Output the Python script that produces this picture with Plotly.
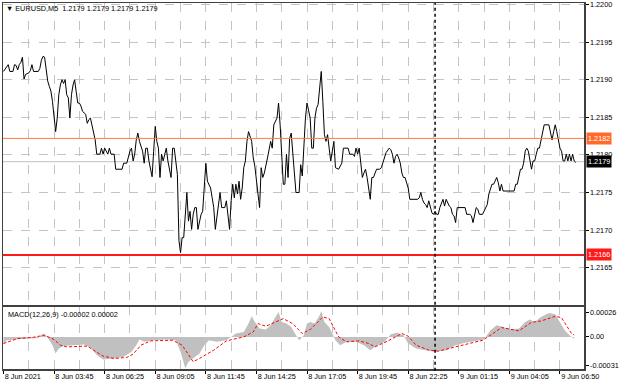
import math
import plotly.graph_objects as go

# ---------------- data ----------------
price_bar = [0, 3, 4, 6, 7, 8, 9, 10, 11, 12, 13, 14, 16, 17, 18, 19, 22, 23, 24, 25, 26, 27, 28, 29, 30,
             31, 32, 33, 34, 35, 36, 37, 38, 39, 40, 41, 42, 43, 44, 45, 46, 47, 48, 49, 50, 52, 53, 54, 55,
             56, 57, 58, 59, 61, 62, 63, 64, 66, 67, 68, 70, 71, 75, 76, 78, 79, 80, 81, 82, 83, 84, 85, 86,
             88, 89, 90, 91, 92, 94, 95, 96, 97, 98, 99, 100, 101, 102, 103, 104, 105, 106, 107, 108, 110,
             111, 112, 113, 114, 115, 116, 117, 118, 119, 120, 121, 122, 123, 124, 125, 126, 127, 128, 129,
             131, 132, 133, 134, 135, 136, 137, 138, 140, 141, 142, 143, 144, 145, 146, 147, 148, 149, 150,
             151, 152, 153, 154, 155, 157, 158, 159, 160, 161, 162, 163, 164, 165, 167, 169, 170, 171, 173,
             174, 175, 176, 177, 178, 179, 180, 181, 182, 183, 184, 185, 187, 188, 189, 190, 191, 192, 193,
             194, 195, 196, 197, 198, 199, 200, 201, 202, 203, 204, 205, 206, 207, 208, 209, 210, 212, 214,
             215, 218, 219, 221, 222, 223, 224, 225, 226, 227, 228, 229, 230, 231, 232, 233, 234, 236, 238,
             239, 241, 242, 244, 245, 246, 247, 248, 249, 250, 251, 252, 253, 254, 255, 256, 257, 258, 262,
             263, 264, 265, 266, 267, 268, 269, 270, 271, 272, 273, 274, 275, 276, 278, 279, 280, 282, 283,
             284, 285, 286, 287, 292, 293, 295, 296, 297, 298, 299, 300, 301, 303, 305, 306, 307, 308, 309,
             310, 311, 312, 313, 314, 315, 316, 323, 324, 325, 326, 327, 328, 329, 330, 331, 332, 333, 334,
             335, 336, 337, 338, 339, 340, 341, 342, 345, 346, 347, 348, 349, 350, 351, 352, 353, 354, 355,
             356, 357, 358, 359, 360, 361, 362]
price_close = [1.21911, 1.21920, 1.21911, 1.21911, 1.21920, 1.21919, 1.21913, 1.21920, 1.21923, 1.21930,
               1.21901, 1.21907, 1.21909, 1.21912, 1.21920, 1.21911, 1.21911, 1.21915, 1.21926, 1.21931,
               1.21930, 1.21911, 1.21898, 1.21891, 1.21885, 1.21871, 1.21854, 1.21831, 1.21849, 1.21880,
               1.21893, 1.21900, 1.21895, 1.21900, 1.21880, 1.21876, 1.21849, 1.21880, 1.21893, 1.21900,
               1.21884, 1.21869, 1.21869, 1.21865, 1.21858, 1.21854, 1.21842, 1.21847, 1.21849, 1.21838,
               1.21831, 1.21820, 1.21801, 1.21801, 1.21809, 1.21801, 1.21809, 1.21801, 1.21809, 1.21801,
               1.21801, 1.21781, 1.21781, 1.21789, 1.21789, 1.21798, 1.21805, 1.21809, 1.21792, 1.21801,
               1.21820, 1.21829, 1.21818, 1.21805, 1.21789, 1.21809, 1.21809, 1.21792, 1.21771, 1.21805,
               1.21838, 1.21818, 1.21809, 1.21770, 1.21801, 1.21792, 1.21801, 1.21809, 1.21792, 1.21783,
               1.21770, 1.21809, 1.21809, 1.21774, 1.21686, 1.21670, 1.21690, 1.21690, 1.21721, 1.21750,
               1.21712, 1.21725, 1.21701, 1.21721, 1.21730, 1.21730, 1.21701, 1.21712, 1.21721, 1.21725,
               1.21752, 1.21789, 1.21765, 1.21756, 1.21743, 1.21730, 1.21701, 1.21717, 1.21730, 1.21750,
               1.21730, 1.21730, 1.21739, 1.21721, 1.21701, 1.21739, 1.21761, 1.21743, 1.21761, 1.21748,
               1.21765, 1.21741, 1.21756, 1.21783, 1.21792, 1.21818, 1.21831, 1.21818, 1.21796, 1.21785,
               1.21761, 1.21748, 1.21730, 1.21783, 1.21770, 1.21776, 1.21796, 1.21818, 1.21809, 1.21840,
               1.21849, 1.21869, 1.21840, 1.21801, 1.21761, 1.21761, 1.21801, 1.21770, 1.21822, 1.21829,
               1.21801, 1.21776, 1.21750, 1.21750, 1.21787, 1.21772, 1.21818, 1.21849, 1.21869, 1.21858,
               1.21849, 1.21809, 1.21809, 1.21849, 1.21862, 1.21867, 1.21885, 1.21911, 1.21871, 1.21827,
               1.21818, 1.21827, 1.21809, 1.21792, 1.21805, 1.21818, 1.21783, 1.21781, 1.21789, 1.21809,
               1.21809, 1.21801, 1.21801, 1.21798, 1.21809, 1.21801, 1.21809, 1.21789, 1.21770, 1.21776,
               1.21781, 1.21770, 1.21756, 1.21741, 1.21770, 1.21770, 1.21781, 1.21781, 1.21783, 1.21798,
               1.21803, 1.21809, 1.21807, 1.21801, 1.21789, 1.21798, 1.21801, 1.21796, 1.21789, 1.21776,
               1.21770, 1.21770, 1.21761, 1.21756, 1.21741, 1.21741, 1.21741, 1.21743, 1.21750, 1.21741,
               1.21736, 1.21734, 1.21730, 1.21739, 1.21730, 1.21723, 1.21721, 1.21725, 1.21721, 1.21721,
               1.21730, 1.21741, 1.21732, 1.21741, 1.21732, 1.21730, 1.21721, 1.21719, 1.21710, 1.21730,
               1.21730, 1.21721, 1.21721, 1.21719, 1.21710, 1.21721, 1.21730, 1.21728, 1.21721, 1.21721,
               1.21730, 1.21734, 1.21748, 1.21754, 1.21761, 1.21761, 1.21765, 1.21770, 1.21763, 1.21752,
               1.21761, 1.21752, 1.21752, 1.21761, 1.21761, 1.21770, 1.21781, 1.21781, 1.21789, 1.21805,
               1.21809, 1.21805, 1.21794, 1.21781, 1.21792, 1.21792, 1.21801, 1.21809, 1.21809, 1.21820,
               1.21831, 1.21840, 1.21840, 1.21829, 1.21820, 1.21831, 1.21840, 1.21831, 1.21818, 1.21809,
               1.21805, 1.21792, 1.21792, 1.21801, 1.21792, 1.21801, 1.21792, 1.21801, 1.21792, 1.21790]

macd_bar = [0, 2, 7, 15, 22, 25, 27, 29, 31, 33, 35, 38, 45, 51, 55, 59, 63, 70, 76, 81, 84, 86, 89, 95,
            103, 109, 112, 114, 115, 117, 120, 124, 127, 130, 135, 141, 147, 152, 155, 157, 159, 162, 166,
            169, 172, 174, 176, 179, 182, 185, 187, 190, 192, 194, 197, 200, 201, 203, 206, 208, 210, 213,
            217, 223, 228, 232, 235, 241, 245, 249, 253, 256, 261, 267, 273, 280, 286, 292, 298, 304, 308,
            312, 316, 321, 326, 330, 333, 336, 340, 345, 349, 352, 355, 358, 361]
macd_hist = [-0.000078, -0.000036, -0.000028, -0.000021, -0.000011, 0.000036, 0.000011, -0.000036,
             -0.000089, -0.000178, -0.000124, -0.000099, -0.000089, -0.000082, -0.000114, -0.000195,
             -0.000241, -0.000231, -0.000213, -0.000160, -0.000089, -0.000028, -0.000053, -0.000036,
             -0.000028, -0.000036, -0.000160, -0.000266, -0.000337, -0.000266, -0.000231, -0.000178,
             -0.000089, -0.000036, -0.000053, -0.000036, 0.000036, 0.000053, 0.000142, 0.000220, 0.000160,
             0.000089, 0.000078, 0.000124, 0.000213, 0.000266, 0.000160, 0.000142, 0.000107, 0.000018,
             -0.000036, 0.000018, 0.000142, 0.000160, 0.000142, 0.000231, 0.000277, 0.000160, 0.000107,
             0.000036, -0.000036, -0.000089, -0.000053, -0.000053, -0.000089, -0.000142, -0.000107,
             -0.000053, 0.000028, 0.000043, 0.000018, -0.000071, -0.000124, -0.000142, -0.000160,
             -0.000142, -0.000089, -0.000064, -0.000043, -0.000028, 0.000071, 0.000124, 0.000107,
             0.000078, 0.000089, 0.000160, 0.000185, 0.000160, 0.000213, 0.000256, 0.000241, 0.000160,
             0.000071, 0.000018, -0.000020]

signal_bar = [0, 9, 19, 26, 32, 36, 40, 53, 57, 63, 70, 78, 82, 87, 93, 107, 113, 118, 120, 124, 133,
              141, 152, 158, 161, 166, 175, 177, 183, 189, 193, 194, 202, 206, 212, 217, 225, 231, 235,
              244, 252, 256, 261, 269, 275, 284, 292, 303, 309, 315, 326, 334, 340, 349, 353, 359, 361]
signal_val = [-0.000071, -0.000018, -0.000004, 0.000018, -0.000028, -0.000089, -0.000107, -0.000099,
              -0.000142, -0.000206, -0.000231, -0.000220, -0.000185, -0.000089, -0.000043, -0.000036,
              -0.000089, -0.000213, -0.000266, -0.000231, -0.000142, -0.000043, 0.0, 0.000053, 0.000142,
              0.000114, 0.000185, 0.000195, 0.000142, 0.000036, 0.000071, 0.000078, 0.000213, 0.000195,
              0.0, -0.000053, -0.000043, -0.000071, -0.000107, -0.000036, 0.000036, 0.000007, -0.000089,
              -0.000142, -0.000153, -0.000114, -0.000078, -0.000036, 0.000028, 0.000100, 0.000064,
              0.000156, 0.000170, 0.000220, 0.000206, 0.000043, 0.000020]

tick_bars = [0, 32, 64, 96, 128, 160, 192, 224, 256, 288, 320, 352]
tick_labels = ["8 Jun 2021", "8 Jun 03:45", "8 Jun 06:25", "8 Jun 09:05", "8 Jun 11:45", "8 Jun 14:25",
               "8 Jun 17:05", "8 Jun 19:45", "8 Jun 22:25", "9 Jun 01:15", "9 Jun 04:05", "9 Jun 06:50"]
price_ticks = [1.2165, 1.2170, 1.2175, 1.2180, 1.2185, 1.2190, 1.2195, 1.2200]
macd_ticks = [0.00026, 0.0, -0.00031]
macd_tick_labels = ["0.00026", "0.00", "-0.00031"]

level_orange = 1.21822
level_red = 1.21667
bid_price = 1.21791
cursor_bar = 273
symbol_label = "EURUSD,M5"
ohlc_values = ["1.2179", "1.2179", "1.2179", "1.2179"]
macd_label = "MACD(12,26,9) -0.00002 0.00002"

# ---------------- figure ----------------
FONT = "Liberation Sans, Arial, sans-serif"
FS = 7.3
GRID = "#c4c4c4"
FRAME = "#404040"

fig = go.Figure()
fig.add_trace(go.Scatter(x=macd_bar, y=macd_hist, mode="lines", fill="tozeroy",
                         fillcolor="#c0c0c0", line=dict(width=0, color="#c0c0c0"),
                         xaxis="x", yaxis="y2", hoverinfo="skip"))
fig.add_trace(go.Scatter(x=signal_bar, y=signal_val, mode="lines",
                         line=dict(color="#ff0000", width=1, dash="3px,2px"),
                         xaxis="x", yaxis="y2", hoverinfo="skip"))
fig.add_trace(go.Scatter(x=price_bar, y=price_close, mode="lines",
                         line=dict(color="#000000", width=1),
                         xaxis="x2", yaxis="y", hoverinfo="skip"))

xr = [-0.3, 367.2]
common_x = dict(range=xr, showgrid=True, gridcolor=GRID, griddash="dash", gridwidth=1,
                minor=dict(tick0=0, dtick=16, showgrid=True, gridcolor=GRID, griddash="dash", ticks=""),
                showline=True, mirror=True, linecolor=FRAME, linewidth=1.5, zeroline=False)

fig.update_layout(
    width=620, height=388,
    margin=dict(l=2, r=34, t=1, b=19),
    paper_bgcolor="white", plot_bgcolor="white",
    showlegend=False,
    hovermode=False,
    font=dict(family=FONT, size=FS, color="black"),
    xaxis=dict(domain=[0, 1], anchor="y2", tickmode="array", tickvals=tick_bars, ticktext=tick_labels,
               ticks="outside", ticklen=3, tickcolor="black", ticklabelposition="outside right",
               tickfont=dict(family=FONT, size=FS, color="black"), **common_x),
    xaxis2=dict(domain=[0, 1], anchor="y", matches="x", tickmode="array", tickvals=tick_bars,
                showticklabels=False, ticks="", **common_x),
    yaxis=dict(domain=[0.1739, 1], anchor="x2", side="right", range=[1.21600, 1.22002],
               tickmode="array", tickvals=price_ticks, tickformat=".4f",
               ticks="outside", ticklen=3, tickcolor="black",
               tickfont=dict(family=FONT, size=FS, color="black"),
               showgrid=True, gridcolor=GRID, griddash="dash", zeroline=False,
               showline=True, mirror=True, linecolor=FRAME, linewidth=1.5),
    yaxis2=dict(domain=[0, 0.1712], anchor="x", side="right", range=[-0.000344, 0.000327],
                tickmode="array", tickvals=macd_ticks, ticktext=macd_tick_labels,
                ticks="outside", ticklen=3, tickcolor="black",
                tickfont=dict(family=FONT, size=FS, color="black"),
                showgrid=False, zeroline=False,
                showline=True, mirror=True, linecolor=FRAME, linewidth=1.5),
)

shapes = [
    dict(type="line", xref="x2 domain", x0=0, x1=1, yref="y", y0=bid_price, y1=bid_price,
         line=dict(color="#c0c0c0", width=1), layer="below"),
    dict(type="line", xref="x2 domain", x0=0, x1=1, yref="y", y0=level_orange, y1=level_orange,
         line=dict(color="#ff7b3a", width=1)),
    dict(type="line", xref="x2 domain", x0=0, x1=1, yref="y", y0=level_red, y1=level_red,
         line=dict(color="#ff1a1a", width=2)),
    dict(type="line", xref="x", x0=cursor_bar, x1=cursor_bar, yref="paper", y0=-0.005, y1=1,
         line=dict(color="#000000", width=1.5, dash="dot")),
]
fig.update_layout(shapes=shapes)


def tag_text(v):
    return f"{math.floor(v * 1e4 + 1e-9) / 1e4:.4f}"


ann = []
for lvl, bg in [(level_orange, "#ff6a2a"), (level_red, "#ff1a1a"), (bid_price, "#000000")]:
    ann.append(dict(xref="paper", x=1, xanchor="left", xshift=2, yref="y", y=lvl, yanchor="middle",
                    text=tag_text(lvl), showarrow=False, bgcolor=bg, borderpad=1,
                    font=dict(family=FONT, size=FS, color="white")))
ann.append(dict(xref="paper", x=0.002, xanchor="left", yref="paper", y=0.9837, yanchor="middle",
                text="▼ " + symbol_label + "  " + " ".join(ohlc_values), showarrow=False,
                font=dict(family=FONT, size=FS, color="black")))
ann.append(dict(xref="paper", x=0.006, xanchor="left", yref="paper", y=(369 - 314) / 368, yanchor="middle",
                text=macd_label, showarrow=False, font=dict(family=FONT, size=FS, color="black")))
fig.update_layout(annotations=ann)

fig.write_html("out.html",
               config={"displayModeBar": False, "staticPlot": True},
               post_script="document.body.style.margin='0';document.body.style.overflow='hidden';")
